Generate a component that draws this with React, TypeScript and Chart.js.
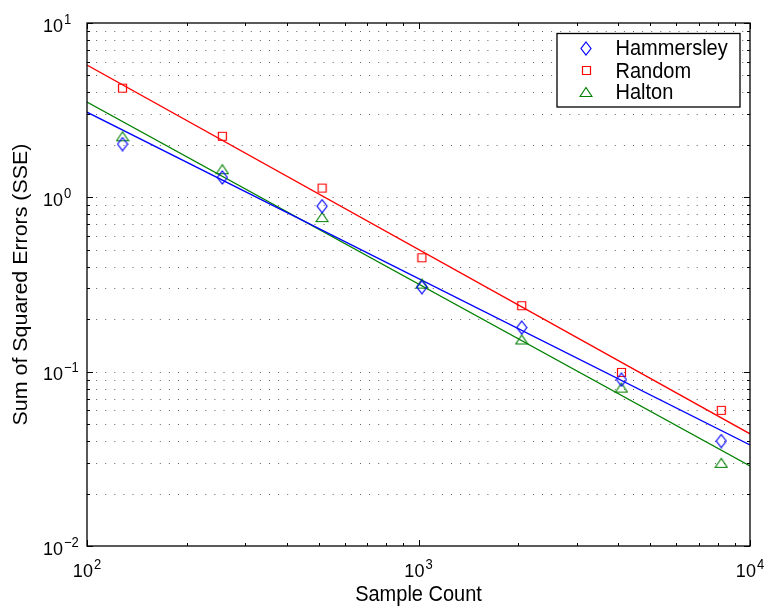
import React, { useEffect, useRef } from 'react';
import { Chart, registerables } from 'chart.js';

Chart.register(...registerables);

// ---- Data ----
const sampleCounts = [128, 256, 512, 1024, 2048, 4096, 8192];
const hammersleySSE = [2.02, 1.3, 0.89, 0.305, 0.179, 0.09, 0.04];
const randomSSE = [4.23, 2.24, 1.13, 0.45, 0.239, 0.099, 0.06];
const haltonSSE = [2.24, 1.45, 0.77, 0.32, 0.153, 0.081, 0.03];
const fitX = [100, 10000];
const hammersleyFit = [3.08, 0.038];
const randomFit = [5.74, 0.044];
const haltonFit = [3.52, 0.0288];
const seriesNames = ['Hammersley', 'Random', 'Halton'];
const xTickExponents = [2, 3, 4];
const yTickExponents = [-2, -1, 0, 1];
const xTitle = 'Sample Count';
const yTitle = 'Sum of Squared Errors (SSE)';

const BLUE = '#0000ff';
const RED = '#ff0000';
const GREEN = '#008000';
const FONT = '"Liberation Sans", Arial, Helvetica, sans-serif';
const VS = 1.07; // vertical stretch of text

function makeMarker(kind: string, color: string): HTMLCanvasElement {
  const c = document.createElement('canvas');
  let w = 12, h = 15;
  if (kind === 'square') { w = 11; h = 11; }
  if (kind === 'triangle') { w = 14; h = 12; }
  c.width = w; c.height = h;
  const g = c.getContext('2d')!;
  g.strokeStyle = color;
  g.lineWidth = 1.2;
  g.beginPath();
  if (kind === 'diamond') {
    g.moveTo(6, 1); g.lineTo(11, 7.5); g.lineTo(6, 14); g.lineTo(1, 7.5); g.closePath();
  } else if (kind === 'square') {
    g.rect(1.5, 1.5, 8, 8);
  } else {
    g.moveTo(7, 1.5); g.lineTo(13, 10.5); g.lineTo(1, 10.5); g.closePath();
  }
  g.stroke();
  return c;
}

function drawText(ctx: CanvasRenderingContext2D, s: string, x: number, y: number, size: number, align: CanvasTextAlign = 'left', rot = 0) {
  ctx.save();
  ctx.translate(x, y);
  if (rot) { ctx.rotate(rot); ctx.scale(VS, 1); } else { ctx.scale(1, VS); }
  ctx.font = `${size}px ${FONT}`;
  ctx.fillStyle = '#000';
  ctx.textAlign = align;
  ctx.textBaseline = 'alphabetic';
  ctx.fillText(s, 0, 0);
  ctx.restore();
}

function textWidth(ctx: CanvasRenderingContext2D, s: string, size: number) {
  ctx.save();
  ctx.font = `${size}px ${FONT}`;
  const w = ctx.measureText(s).width;
  ctx.restore();
  return w;
}

const BASE_SIZE = 18;
const SUP_SIZE = 13;

function supLabel(e: number) {
  return e < 0 ? '\u2212' + String(-e) : String(e);
}

export default function App() {
  const ref = useRef<HTMLCanvasElement | null>(null);

  useEffect(() => {
    if (!ref.current) return;
    const markers = [makeMarker('diamond', BLUE), makeMarker('square', RED), makeMarker('triangle', GREEN)];
    const colors = [BLUE, RED, GREEN];

    const plugin = {
      id: 'matlabDecor',
      beforeDatasetsDraw(chart: any) {
        const { ctx, chartArea: a, scales } = chart;
        const y = scales.y;
        ctx.save();
        ctx.strokeStyle = 'rgba(0,0,0,0.62)';
        ctx.lineWidth = 1;
        ctx.setLineDash([1, 8.1]);
        for (const e of [-2, -1, 0]) {
          for (let k = 1; k <= 9; k++) {
            if (e === -2 && k === 1) continue;
            const py = Math.round(y.getPixelForValue(k * Math.pow(10, e))) + 0.5;
            ctx.beginPath();
            ctx.moveTo(a.left, py);
            ctx.lineTo(a.right, py);
            ctx.stroke();
          }
        }
        ctx.restore();
      },
      afterDatasetsDraw(chart: any) {
        const { ctx, chartArea: a, scales } = chart;
        const x = scales.x;
        const y = scales.y;
        ctx.save();
        ctx.strokeStyle = '#000';
        ctx.lineWidth = 1.3;
        ctx.setLineDash([]);
        ctx.strokeRect(a.left, a.top, a.right - a.left, a.bottom - a.top);

        // ticks
        ctx.lineWidth = 1;
        ctx.beginPath();
        for (let e = 2; e <= 4; e++) {
          for (let k = 1; k <= 9; k++) {
            if (e === 4 && k > 1) break;
            const px = Math.round(x.getPixelForValue(k * Math.pow(10, e))) + 0.5;
            const len = k === 1 ? 6 : 3;
            ctx.moveTo(px, a.bottom); ctx.lineTo(px, a.bottom - len);
            ctx.moveTo(px, a.top); ctx.lineTo(px, a.top + len);
          }
        }
        for (let e = -2; e <= 1; e++) {
          for (let k = 1; k <= 9; k++) {
            if (e === 1 && k > 1) break;
            const py = Math.round(y.getPixelForValue(k * Math.pow(10, e))) + 0.5;
            const len = k === 1 ? 6 : 3;
            ctx.moveTo(a.left, py); ctx.lineTo(a.left + len, py);
            ctx.moveTo(a.right, py); ctx.lineTo(a.right - len, py);
          }
        }
        ctx.stroke();

        // x tick labels
        for (const e of xTickExponents) {
          const px = x.getPixelForValue(Math.pow(10, e));
          const sup = supLabel(e);
          const w1 = textWidth(ctx, '10', BASE_SIZE);
          const w2 = textWidth(ctx, sup, SUP_SIZE);
          const start = px - (w1 + w2 + 1) / 2;
          const base = a.bottom + 31;
          drawText(ctx, '10', start, base, BASE_SIZE);
          drawText(ctx, sup, start + w1 + 1, base - 8, SUP_SIZE);
        }
        // y tick labels
        for (const e of yTickExponents) {
          const py = y.getPixelForValue(Math.pow(10, e));
          const w1 = textWidth(ctx, '10', BASE_SIZE);
          const base = py + 8.5;
          drawText(ctx, '10', 43, base, BASE_SIZE);
          drawText(ctx, supLabel(e), 43 + w1 + 1, base - 8, SUP_SIZE);
        }

        // axis titles
        drawText(ctx, xTitle, (a.left + a.right) / 2, 601, 20, 'center');
        drawText(ctx, yTitle, 27, (a.top + a.bottom) / 2, 20, 'center', -Math.PI / 2);

        // legend
        const lx = 557, ly = 33.5, lw = 183, lh = 73.5;
        ctx.fillStyle = '#fff';
        ctx.fillRect(lx, ly, lw, lh);
        ctx.strokeStyle = '#000';
        ctx.lineWidth = 1.3;
        ctx.strokeRect(lx, ly, lw, lh);
        const rows = [48, 70.5, 92];
        seriesNames.forEach((name, i) => {
          const m = markers[i];
          ctx.drawImage(m, Math.round(586 - m.width / 2), Math.round(rows[i] - m.height / 2));
          drawText(ctx, name, 615.5, rows[i] + 7.3, 20);
        });
        ctx.restore();
      },
    };

    const pts = (xs: number[], ys: number[]) => xs.map((v, i) => ({ x: v, y: ys[i] }));
    const sse = [hammersleySSE, randomSSE, haltonSSE];
    const fits = [hammersleyFit, randomFit, haltonFit];

    const datasets: any[] = [];
    seriesNames.forEach((name, i) => {
      datasets.push({
        type: 'line',
        label: name,
        data: pts(sampleCounts, sse[i]),
        showLine: false,
        pointStyle: markers[i],
        pointRadius: 6,
        borderColor: colors[i],
        backgroundColor: 'transparent',
      });
    });
    seriesNames.forEach((name, i) => {
      datasets.push({
        type: 'line',
        label: name + ' fit',
        data: pts(fitX, fits[i]),
        borderColor: colors[i],
        borderWidth: 1.3,
        pointRadius: 0,
        fill: false,
        tension: 0,
      });
    });

    const chart = new Chart(ref.current, {
      type: 'line',
      data: { datasets },
      options: {
        animation: false,
        responsive: false,
        events: [],
        layout: { padding: { left: 87, right: 18, top: 23, bottom: 63 } },
        scales: {
          x: { type: 'logarithmic', min: 100, max: 10000, display: false },
          y: { type: 'logarithmic', min: 0.01, max: 10, display: false },
        },
        plugins: { legend: { display: false }, tooltip: { enabled: false } },
      },
      plugins: [plugin],
    } as any);
    return () => chart.destroy();
  }, []);

  return (
    <div style={{ position: 'absolute', left: 0, top: 0, width: 768, height: 609, background: '#fff' }}>
      <canvas ref={ref} width={768} height={609} style={{ display: 'block' }} />
    </div>
  );
}
